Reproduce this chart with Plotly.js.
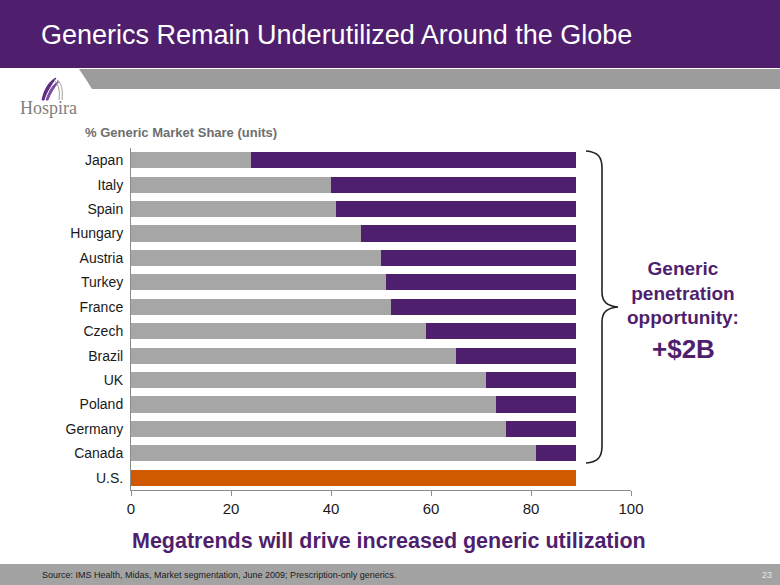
<!DOCTYPE html>
<html>
<head>
<meta charset="utf-8">
<script src="https://cdn.plot.ly/plotly-3.0.1.min.js"></script>
<style>html,body{margin:0;padding:0;background:#fff;}#chart{width:780px;height:585px;}</style>
</head>
<body>
<div id="chart"></div>
<script>
// ---- Data ----
const countries = ["Japan","Italy","Spain","Hungary","Austria","Turkey","France","Czech","Brazil","UK","Poland","Germany","Canada","U.S."];
const genericShare = [24,40,41,46,50,51,52,59,65,71,73,75,81,89];
const remainingOpportunity = [65,49,48,43,39,38,37,30,24,18,16,14,8,0];
const xTickVals = [0,20,40,60,80,100];
const xTickText = ["0","20","40","60","80","100"];

// ---- Styles ----
const PURPLE = "#4E1F6C";
const GRAY = "#A6A6A6";
const ORANGE = "#D05A02";
const grayColors = countries.map(c => c === "U.S." ? ORANGE : GRAY);

// pixel -> paper helpers (plot area: x 131..631, y 148..490)
const L = 131, R = 631, T = 148, B = 490;
const X = px => (px - L) / (R - L);
const Y = py => (B - py) / (B - T);

const traces = [
  {
    type: "bar", orientation: "h", y: countries, x: genericShare,
    marker: {color: grayColors}, hoverinfo: "x+y", name: "Generic"
  },
  {
    type: "bar", orientation: "h", y: countries, x: remainingOpportunity,
    marker: {color: PURPLE}, hoverinfo: "x+y", name: "Opportunity"
  }
];

const bracePath = [
  `M ${X(586)} ${Y(151)}`,
  `C ${X(598)} ${Y(152)} ${X(602)} ${Y(157)} ${X(602)} ${Y(168)}`,
  `L ${X(602)} ${Y(292)}`,
  `C ${X(602)} ${Y(302)} ${X(607)} ${Y(306)} ${X(618)} ${Y(307)}`,
  `C ${X(607)} ${Y(308)} ${X(602)} ${Y(312)} ${X(602)} ${Y(322)}`,
  `L ${X(602)} ${Y(446)}`,
  `C ${X(602)} ${Y(457)} ${X(598)} ${Y(462)} ${X(586)} ${Y(463)}`
].join(" ");

const shapes = [
  // header purple band
  {type:"rect", xref:"paper", yref:"paper", x0:X(0), x1:X(780), y0:Y(0), y1:Y(68), fillcolor:"#4F1F6E", line:{width:0}, layer:"below"},
  // gray band under header with slanted left edge
  {type:"path", xref:"paper", yref:"paper",
   path:`M ${X(79)} ${Y(69)} L ${X(780)} ${Y(69)} L ${X(780)} ${Y(89)} L ${X(92)} ${Y(89)} Q ${X(86)} ${Y(79)} ${X(79)} ${Y(69)} Z`,
   fillcolor:"#9C9C9C", line:{width:0}, layer:"below"},
  // footer gray bar
  {type:"rect", xref:"paper", yref:"paper", x0:X(0), x1:X(780), y0:Y(564), y1:Y(585), fillcolor:"#A3A3A3", line:{width:0}, layer:"below"},
  // logo swooshes
  {type:"path", xref:"paper", yref:"paper",
   path:`M ${X(42)} ${Y(100)} C ${X(44)} ${Y(90)} ${X(49)} ${Y(81)} ${X(56)} ${Y(78)} C ${X(51)} ${Y(85)} ${X(46)} ${Y(93)} ${X(44)} ${Y(100)} Z`,
   fillcolor:"#5E2A84", line:{color:"#5E2A84", width:1}},
  {type:"path", xref:"paper", yref:"paper",
   path:`M ${X(46)} ${Y(100)} C ${X(49)} ${Y(91)} ${X(53)} ${Y(84)} ${X(59)} ${Y(81)} C ${X(54)} ${Y(88)} ${X(50)} ${Y(94)} ${X(48)} ${Y(100)} Z`,
   fillcolor:"#7D4CA0", line:{color:"#7D4CA0", width:1}},
  {type:"path", xref:"paper", yref:"paper",
   path:`M ${X(57)} ${Y(80)} C ${X(62)} ${Y(83)} ${X(63)} ${Y(91)} ${X(62)} ${Y(100)} M ${X(55)} ${Y(81)} C ${X(59)} ${Y(85)} ${X(60)} ${Y(92)} ${X(59)} ${Y(100)}`,
   line:{color:"#A0A0A0", width:1}}
  ,
  // brace
  {type:"path", xref:"paper", yref:"paper", path: bracePath, line:{color:"#222", width:1.6}}
];

const annotations = [
  {xref:"paper", yref:"paper", x:X(39), y:Y(35), xanchor:"left", yanchor:"middle", showarrow:false,
   text:"Generics Remain Underutilized Around the Globe",
   font:{family:"Liberation Sans, Arial, sans-serif", size:27, color:"#FFFFFF"}},
  {xref:"paper", yref:"paper", x:X(18), y:Y(108), xanchor:"left", yanchor:"middle", showarrow:false,
   text:"Hospira",
   font:{family:"Liberation Serif, Times New Roman, serif", size:18, color:"#808080"}},
  {xref:"paper", yref:"paper", x:X(83), y:Y(132), xanchor:"left", yanchor:"middle", showarrow:false,
   text:"<b>% Generic Market Share (units)</b>",
   font:{family:"Liberation Sans, Arial, sans-serif", size:13, color:"#6E6E6E"}},
  {xref:"paper", yref:"paper", x:X(683), y:Y(293), xanchor:"center", yanchor:"middle", showarrow:false,
   text:"<b>Generic<br>penetration<br>opportunity:</b>", align:"center",
   font:{family:"Liberation Sans, Arial, sans-serif", size:19, color:"#4F1F6E"}},
  {xref:"paper", yref:"paper", x:X(683), y:Y(349), xanchor:"center", yanchor:"middle", showarrow:false,
   text:"<b>+$2B</b>",
   font:{family:"Liberation Sans, Arial, sans-serif", size:26, color:"#4F1F6E"}},
  {xref:"paper", yref:"paper", x:X(389), y:Y(541), xanchor:"center", yanchor:"middle", showarrow:false,
   text:"<b>Megatrends will drive increased generic utilization</b>",
   font:{family:"Liberation Sans, Arial, sans-serif", size:21.5, color:"#4F1F6E"}},
  {xref:"paper", yref:"paper", x:X(40), y:Y(575), xanchor:"left", yanchor:"middle", showarrow:false,
   text:"Source: IMS Health, Midas, Market segmentation, June 2009; Prescription-only generics.",
   font:{family:"Liberation Sans, Arial, sans-serif", size:9, color:"#1A1A1A"}},
  {xref:"paper", yref:"paper", x:X(774), y:Y(575), xanchor:"right", yanchor:"middle", showarrow:false,
   text:"23",
   font:{family:"Liberation Sans, Arial, sans-serif", size:9, color:"#E6E6E6"}}
];

const layout = {
  width: 780, height: 585,
  margin: {l: L, r: 780 - R, t: T, b: 585 - B, pad: 0},
  paper_bgcolor: "#FFFFFF", plot_bgcolor: "#FFFFFF",
  barmode: "stack", bargap: 0.34,
  showlegend: false,
  font: {family: "Liberation Sans, Arial, sans-serif", color: "#222"},
  xaxis: {
    range: [0, 100], tickvals: xTickVals, ticktext: xTickText,
    showgrid: false, zeroline: false, showline: true, linecolor: "#8C8C8C", linewidth: 1,
    ticks: "outside", ticklen: 5, tickcolor: "#8C8C8C",
    tickfont: {size: 15, color: "#1A1A1A"}, fixedrange: true
  },
  yaxis: {
    autorange: "reversed", type: "category",
    showgrid: false, zeroline: false, showline: true, linecolor: "#8C8C8C", linewidth: 1,
    ticks: "", ticklabelstandoff: 4,
    tickfont: {size: 14, color: "#1A1A1A"}, fixedrange: true
  },
  shapes: shapes,
  annotations: annotations
};

Plotly.newPlot("chart", traces, layout, {displayModeBar: false, staticPlot: true});
</script>
</body>
</html>
